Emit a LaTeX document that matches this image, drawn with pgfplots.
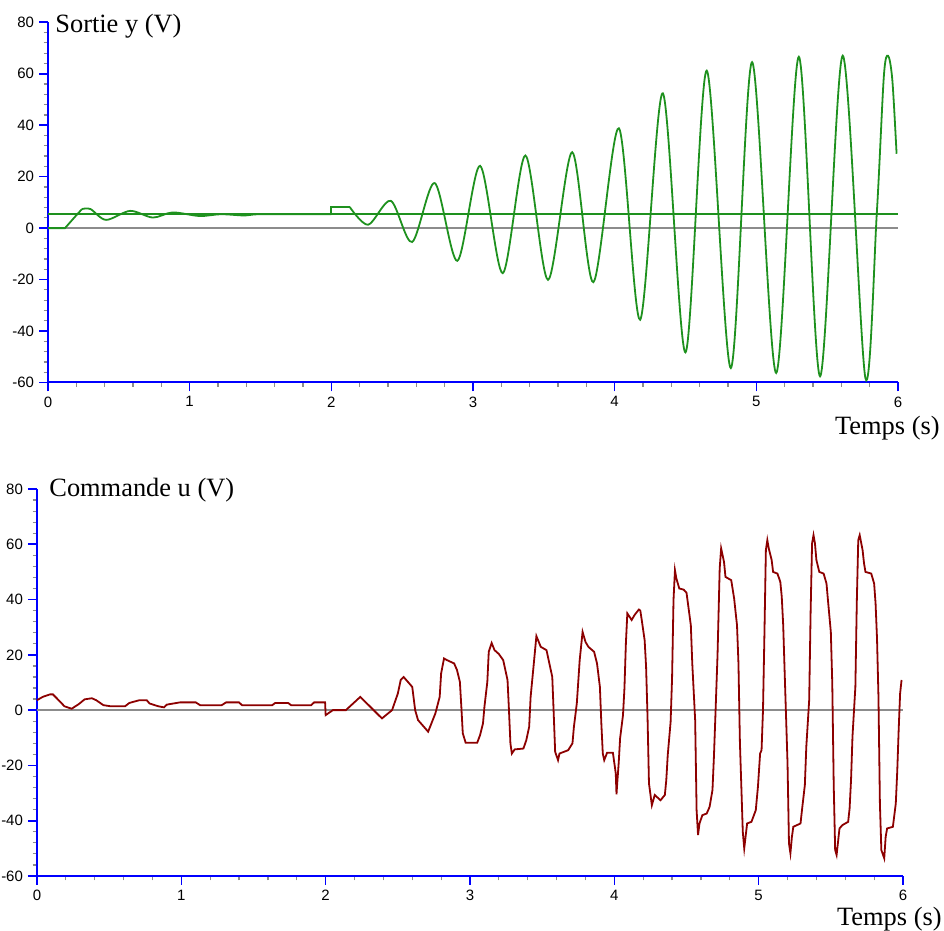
\documentclass[border=0pt]{standalone}
\usepackage{fontspec}
\setmainfont{Liberation Serif}
\newfontfamily\tickfont{Liberation Sans}
\usepackage{pgfplots}
\pgfplotsset{compat=1.18}
\definecolor{ygreen}{RGB}{30,145,30}
\definecolor{ured}{RGB}{140,0,0}
\definecolor{zgray}{RGB}{140,140,140}

\pgfplotsset{
  scope/.style={
    scale only axis,
    anchor=south west,
    xmin=0, xmax=6, ymin=-60, ymax=80,
    axis lines*=left,
    axis line style={blue, line width=1pt},
    xtick={0,1,...,6}, xticklabels={0,1,2,3,4,5,6},
    ytick={-60,-40,...,80}, yticklabels={-60,-40,-20,0,20,40,60,80},
    minor x tick num=4, minor y tick num=4,
    tick align=outside,
    major tick length=4.5pt, minor tick length=2.2pt,
    major tick style={blue, line width=0.8pt},
    minor tick style={zgray, line width=0.6pt},
    ticklabel style={font=\tickfont\fontsize{7.5}{8}\selectfont},
    yticklabel style={xshift=1pt},
    xticklabel style={yshift=1pt},
    clip=false,
  }
}

\begin{document}
\begin{tikzpicture}
\useasboundingbox (0,0) rectangle (472pt,465.5pt);

% Sortie y
\begin{axis}[scope, at={(24pt,274.25pt)}, width=425pt, height=180.1pt]
\addplot[zgray, line width=0.8pt] coordinates {(0,0) (6,0)};
\addplot[ygreen, line width=0.8pt] coordinates {(0,5.4) (6,5.4)};
\addplot[ygreen, line width=0.9pt] coordinates {(0,0) (0.12,0) (0.2,5) (0.24,7.4)};
\addplot[ygreen, line width=0.9pt, smooth] coordinates {
  (0.24,7.4) (0.30,7.4) (0.41,3.2) (0.58,6.7) (0.74,4.1) (0.88,6.1)
  (1.07,4.7) (1.22,5.4) (1.39,4.9) (1.5,5.4) (2.0,5.4)};
\addplot[ygreen, line width=0.9pt] coordinates {(2.0,5.4) (2.0,8.2) (2.13,8.2)};
\addplot[ygreen, line width=0.9pt, smooth] coordinates {
  (2.13,8.2) (2.26,1.3) (2.42,10.6) (2.57,-5.4) (2.73,17.5) (2.89,-12.7)
  (3.05,24.2) (3.21,-17.5) (3.37,28.2) (3.53,-20.1) (3.70,29.5) (3.85,-21)
  (4.03,38.8) (4.18,-35.6) (4.34,52.4) (4.50,-48.3) (4.65,61.2) (4.82,-54.4)
  (4.97,64.5) (5.14,-56.3) (5.30,66.6) (5.45,-57.6) (5.61,67) (5.77,-58.3)
  (5.85,5.4) (5.90,58.9) (5.93,67) (5.96,57.6) (5.99,28.9)};
\end{axis}

% Commande u
\begin{axis}[scope, at={(18.5pt,27.5pt)}, width=433pt, height=193.5pt]
\addplot[zgray, line width=0.8pt] coordinates {(0,0) (6,0)};
\addplot[ured, line width=0.9pt] coordinates {
  (0,3.6) (0.04,4.8) (0.09,5.7) (0.11,5.7) (0.15,3.6) (0.19,1.4) (0.24,0.5)
  (0.29,2.2) (0.33,3.9) (0.38,4.3) (0.41,3.6) (0.46,1.8) (0.51,1.4) (0.61,1.4)
  (0.64,2.6) (0.71,3.6) (0.76,3.6) (0.78,2.4) (0.84,1.4) (0.88,1.0) (0.90,2.0)
  (0.99,2.8) (1.10,2.8) (1.13,1.8) (1.28,1.8) (1.31,2.8) (1.40,2.8) (1.42,1.8)
  (1.63,1.8) (1.65,2.6) (1.74,2.6) (1.76,1.8) (1.90,1.8) (1.92,2.8) (1.996,2.8)
  (2.00,-1.8) (2.05,0) (2.14,0) (2.24,4.8) (2.39,-3.0) (2.46,0) (2.50,6.0)
  (2.52,10.9) (2.54,12.0) (2.60,8.4) (2.62,0) (2.64,-3.6) (2.71,-7.8)
  (2.76,-1.2) (2.79,4.8) (2.80,13.3) (2.82,18.7) (2.84,18.1) (2.89,16.9)
  (2.91,14.5) (2.93,10.2) (2.94,1.2) (2.95,-8.4) (2.97,-11.8) (3.05,-11.8)
  (3.07,-9.0) (3.09,-4.8) (3.10,1.2) (3.12,10.2) (3.13,21.1) (3.15,24.3)
  (3.17,21.7) (3.20,20.3) (3.23,18.1) (3.26,10.9) (3.27,0) (3.28,-12)
  (3.29,-15.7) (3.31,-14.2) (3.37,-13.9) (3.39,-10.9) (3.41,-6.0) (3.42,4.8)
  (3.44,15.7) (3.46,26.8) (3.49,22.9) (3.53,21.7) (3.54,19.3) (3.57,12.0)
  (3.58,-1.2) (3.59,-15.1) (3.61,-18.1) (3.62,-15.7) (3.68,-14.5) (3.71,-12)
  (3.72,-6.0) (3.74,2.4) (3.76,18.1) (3.78,28.3) (3.80,24.7) (3.82,22.9)
  (3.86,21.1) (3.88,16.9) (3.90,8.4) (3.91,-4.8) (3.92,-15.7) (3.93,-18.1)
  (3.95,-15.4) (3.99,-15.4) (4.01,-22.9) (4.015,-30.5) (4.02,-26.5)
  (4.03,-19.3) (4.04,-10.2) (4.06,-1.8) (4.07,7.8) (4.08,24.1) (4.09,35.0)
  (4.12,32.6) (4.14,34.4) (4.17,36.4) (4.18,36) (4.19,32.6) (4.21,25.3)
  (4.22,15.7) (4.23,-2.4) (4.24,-26.5) (4.26,-34.4) (4.28,-30.7) (4.32,-32.6)
  (4.35,-30.7) (4.36,-25.3) (4.37,-16.3) (4.39,-4.2) (4.40,11.5) (4.41,39.8)
  (4.42,50.6) (4.43,47.6) (4.45,44.0) (4.48,43.6) (4.50,42.5) (4.51,38.6)
  (4.53,30.7) (4.54,16.9) (4.56,-3.6) (4.57,-36.2) (4.58,-45.2) (4.59,-41)
  (4.61,-38) (4.64,-37.4) (4.66,-35) (4.68,-28.9) (4.69,-16.9) (4.70,-2.4)
  (4.715,19.9) (4.73,51.3) (4.74,58.5) (4.76,53.6) (4.77,48.2) (4.81,47.0)
  (4.83,40.4) (4.85,30.7) (4.86,16.9) (4.87,-11.5) (4.89,-44) (4.90,-50)
  (4.92,-41) (4.95,-40.4) (4.98,-36.2) (4.995,-27.7) (5.01,-15.7)
  (5.02,-14.5) (5.03,0) (5.04,27.7) (5.05,57.9) (5.06,61.5) (5.07,58.5)
  (5.09,54.3) (5.10,50) (5.13,49.4) (5.15,46.4) (5.16,41) (5.17,30.7)
  (5.18,13.9) (5.20,-19.3) (5.21,-48.2) (5.22,-51.8) (5.23,-46) (5.24,-42.2)
  (5.29,-41) (5.30,-36.2) (5.32,-27.1) (5.33,-13.3) (5.35,3.6) (5.36,35.6)
  (5.37,60.3) (5.38,63.3) (5.39,60.3) (5.40,54.3) (5.42,50) (5.45,49.4)
  (5.47,45.8) (5.48,39.8) (5.50,28.3) (5.51,9.6) (5.52,-27.1) (5.53,-50.6)
  (5.54,-52.4) (5.56,-42.8) (5.58,-41.6) (5.62,-40.4) (5.63,-35.6)
  (5.64,-25.3) (5.65,-9.6) (5.67,8.4) (5.68,39.2) (5.69,61.5) (5.70,63.3)
  (5.72,57.9) (5.73,53.1) (5.74,50) (5.78,49.4) (5.80,45.8) (5.81,38.6)
  (5.82,25.9) (5.83,4.8) (5.84,-33.8) (5.85,-50.6) (5.87,-53.6) (5.88,-45.8)
  (5.89,-42.8) (5.93,-42.2) (5.95,-33.8) (5.96,-22.3) (5.97,-7.2) (5.98,6.0)
  (5.99,10.9)};
\end{axis}

\node[anchor=base west, inner sep=0pt, font=\fontsize{13.2}{15}\selectfont] at (27.5pt,449.25pt) {Sortie y (V)};
\node[anchor=base east, inner sep=0pt, font=\fontsize{13.2}{15}\selectfont] at (470pt,248pt) {Temps (s)};
\node[anchor=base west, inner sep=0pt, font=\fontsize{13.2}{15}\selectfont] at (24.5pt,217pt) {Commande u (V)};
\node[anchor=base east, inner sep=0pt, font=\fontsize{13.2}{15}\selectfont] at (471pt,2.5pt) {Temps (s)};
\end{tikzpicture}
\end{document}
